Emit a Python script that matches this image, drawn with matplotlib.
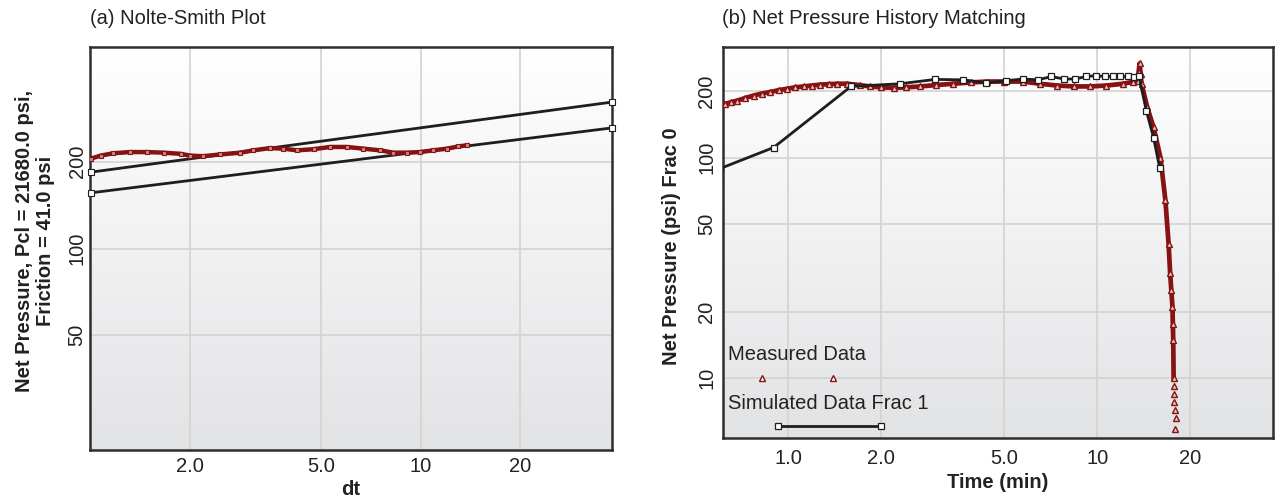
import numpy as np
import matplotlib
matplotlib.use("Agg")
import matplotlib.pyplot as plt
from matplotlib.colors import LinearSegmentedColormap

##### data #####

# (a) Nolte-Smith plot: measured net pressure vs dt
ns_dt = [1.0, 1.07, 1.17, 1.31, 1.48, 1.66, 1.87, 2.0, 2.19, 2.47, 2.84, 3.11,
         3.49, 3.83, 4.21, 4.73, 5.31, 5.97, 6.70, 7.53, 8.26, 9.07, 9.95,
         10.9, 12.0, 13.0, 13.8]
ns_p = [205, 210, 214, 216, 216, 215, 213, 210, 209, 212, 215, 219,
        223, 222, 219, 221, 225, 225, 222, 219, 215, 215, 216,
        219, 222, 226, 228]

# two straight fit lines (end points)
fit_dt = [1.0, 38.0]
fit_upper = [184, 322]
fit_lower = [156, 262]

# (b) net pressure history matching
meas_t = [0.625, 0.652, 0.682, 0.725, 0.772, 0.82, 0.874, 0.93, 0.99, 1.05,
          1.12, 1.19, 1.27, 1.35, 1.44, 1.55, 1.70,
          1.84, 2.0, 2.19, 2.4, 2.67, 3.0, 3.42, 3.9, 4.40, 5.0, 5.76, 6.5,
          7.42, 8.4, 9.49, 10.7, 12.1, 13.0, 13.5, 13.6, 13.7, 13.8, 13.9,
          14.5, 15.2, 16.0, 16.6, 17.0, 17.2, 17.35, 17.5, 17.55, 17.6,
          17.65, 17.7, 17.75, 17.75, 17.8, 17.9, 17.85]
meas_p = [175, 178, 181, 186, 191, 195, 198, 202, 205, 208,
          210, 212, 214, 215, 216, 216, 213,
          210, 208, 207, 208, 210, 213, 216, 219, 221, 221, 221, 216,
          212, 210, 210, 212, 216, 220, 223, 245, 267, 240, 216,
          169, 137, 100, 64, 40.7, 29.8, 25, 21.0, 17.5, 14.9,
          10.0, 9.2, 8.47, 7.79, 7.16, 6.59, 5.87]

sim_t = [0.6, 0.896, 1.595, 2.30, 2.99, 3.68, 4.37, 5.06, 5.75, 6.43, 7.10,
         7.78, 8.49, 9.19, 9.87, 10.56, 11.21, 11.87, 12.57, 13.18, 13.65,
         14.4, 15.2, 15.9]
sim_p = [89, 111, 210, 216, 226, 225, 218, 223, 227, 225, 233,
         227, 227, 233, 235, 233, 233, 233, 233, 231, 233,
         163, 123, 90]

# ticks
a_xticks = [2, 5, 10, 20]
a_xlabels = ["2.0", "5.0", "10", "20"]
a_yticks = [50, 100, 200]
b_xticks = [1, 2, 5, 10, 20]
b_xlabels = ["1.0", "2.0", "5.0", "10", "20"]
b_yticks = [10, 20, 50, 100, 200]

##### style #####

plt.rcParams['font.family'] = ['Liberation Sans', 'DejaVu Sans']
fs = 14.5
red = '#861212'
frame_c = '#2e2e2e'
grid_c = '#d2d2d2'
bg_cmap = LinearSegmentedColormap.from_list('bg', ['#ffffff', '#e2e3e5'])

fig = plt.figure(figsize=(12.75, 5), dpi=100)
ax1 = fig.add_axes([0.0702, 0.100, 0.4098, 0.806])
ax2 = fig.add_axes([0.5673, 0.124, 0.4311, 0.782])


def setup(ax, xlim, ylim, xt, xl, yt, xpad, ypad):
    ax.set_xscale('log')
    ax.set_yscale('log')
    ax.set_xlim(*xlim)
    ax.set_ylim(*ylim)
    ax.set_xticks(xt, xl)
    ax.set_yticks(yt, [str(v) for v in yt])
    ax.minorticks_off()
    ax.tick_params(axis='both', length=0, labelsize=fs, colors='#222222')
    ax.tick_params(axis='x', pad=xpad)
    ax.tick_params(axis='y', pad=ypad, labelrotation=90)
    for lab in ax.get_yticklabels():
        lab.set_va('center')
    ax.grid(True, color=grid_c, lw=1.2)
    ax.set_axisbelow(True)
    for s in ax.spines.values():
        s.set_color(frame_c)
        s.set_linewidth(1.8)
    # gradient background
    grad = np.linspace(1, 0, 256).reshape(-1, 1)
    ax.imshow(grad, extent=[0, 1, 0, 1], transform=ax.transAxes,
              cmap=bg_cmap, aspect='auto', origin='lower', zorder=-10)


setup(ax1, (0.99, 38.0), (20, 500), a_xticks, a_xlabels, a_yticks, 5, 2)
setup(ax2, (0.616, 37.0), (5.35, 317), b_xticks, b_xlabels, b_yticks, 8, 5)

##### (a) #####
ax1.plot(fit_dt, fit_upper, '-', color='#1e1e1e', lw=2, marker='s', ms=4,
         mfc='white', mec='#1e1e1e', mew=0.8, clip_on=False, zorder=3)
ax1.plot(fit_dt, fit_lower, '-', color='#1e1e1e', lw=2, marker='s', ms=4,
         mfc='white', mec='#1e1e1e', mew=0.8, clip_on=False, zorder=3)
ax1.plot(ns_dt, ns_p, '-', color=red, lw=3.2, zorder=4)
ax1.plot(ns_dt, ns_p, 's', ms=3.5, mfc='#c88888', mec=red, mew=0.8, zorder=5)

fig.text(90 / 1275, 1 - 18 / 500, "(a) Nolte-Smith Plot", fontsize=fs,
         ha='left', va='center', color='#222222')
ax1.text(-0.104, 0.52, "Net Pressure, Pcl = 21680.0 psi,\nFriction = 41.0 psi",
         transform=ax1.transAxes, rotation=90, ha='center', va='center',
         fontsize=fs, fontweight='bold', multialignment='center',
         linespacing=1.1, color='#222222')
ax1.text(0.5, -0.099, "dt", transform=ax1.transAxes, ha='center', va='center',
         fontsize=fs, fontweight='bold', color='#222222')

##### (b) #####
# dense band down to 10 psi, single triangles below
n_band = sum(1 for p in meas_p if p >= 10)
ax2.plot(meas_t[:n_band], meas_p[:n_band], '-', color=red, lw=3.4, zorder=3)
ax2.plot(meas_t, meas_p, '^', ms=4.5, mfc='#e8c4c4', mec=red, mew=1.0, zorder=4)
ax2.plot(sim_t, sim_p, '-', color='#1e1e1e', lw=2, marker='s', ms=4.5,
         mfc='white', mec='#1e1e1e', mew=0.9, zorder=5)

fig.text(722 / 1275, 1 - 18 / 500, "(b) Net Pressure History Matching",
         fontsize=fs, ha='left', va='center', color='#222222')
ax2.text(-0.095, 0.49, "Net Pressure (psi) Frac 0", transform=ax2.transAxes,
         rotation=90, ha='center', va='center', fontsize=fs,
         fontweight='bold', color='#222222')
ax2.text(0.5, -0.115, "Time (min)", transform=ax2.transAxes, ha='center',
         va='center', fontsize=fs, fontweight='bold', color='#222222')

# legend, drawn by hand (label above its sample)
ax2.text(0.009, 0.214, "Measured Data", transform=ax2.transAxes, ha='left',
         va='center', fontsize=fs, color='#222222')
ax2.plot([0.071, 0.20], [0.153, 0.153], '^', ms=4.5, mfc='white', mec=red,
         mew=1.0, transform=ax2.transAxes)
ax2.text(0.009, 0.089, "Simulated Data Frac 1", transform=ax2.transAxes,
         ha='left', va='center', fontsize=fs, color='#222222')
ax2.plot([0.10, 0.287], [0.031, 0.031], '-', color='#1e1e1e', lw=2,
         marker='s', ms=4.5, mfc='white', mec='#1e1e1e', mew=0.9,
         transform=ax2.transAxes)

fig.savefig("out.png", dpi=100)
